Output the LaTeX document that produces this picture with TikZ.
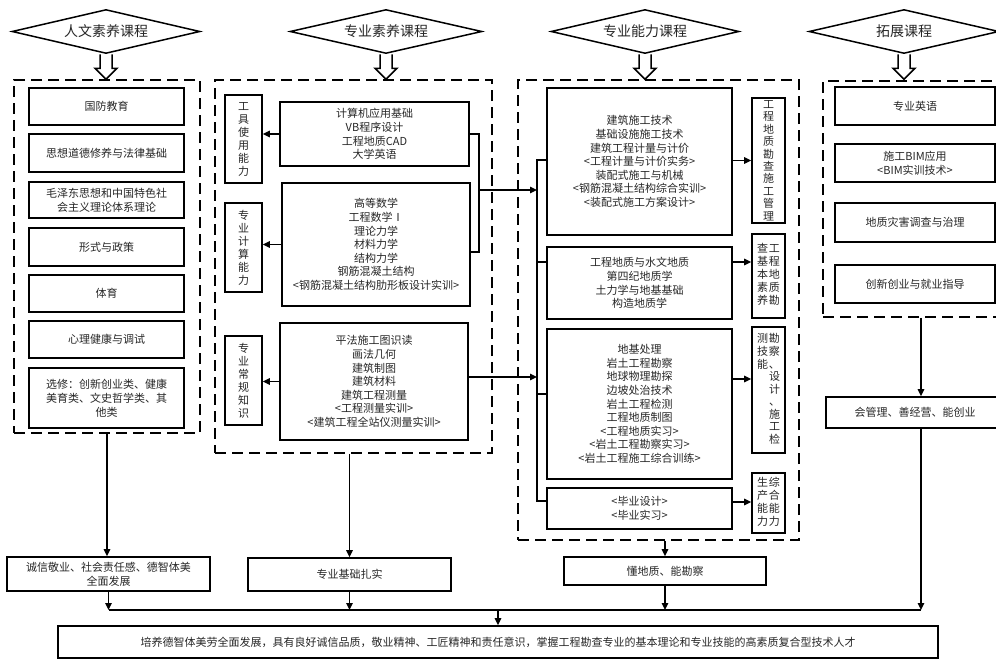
\documentclass[tikz,border=0pt]{standalone}
\usepackage{fontspec}
\setmainfont{Noto Sans CJK SC}
\usetikzlibrary{arrows.meta,shapes.geometric,calc}
\tikzset{
  box/.style={draw, line width=1.7pt, inner sep=0pt, align=center, text=black!85,
    font=\fontsize{11}{13.6}\selectfont},
  lbox/.style={box, font=\fontsize{11}{14}\selectfont},
  vbox/.style={box, font=\fontsize{11}{13}\selectfont},
  dbox/.style={draw, line width=1.8pt, dash pattern=on 11pt off 6pt, inner sep=0pt},
  arr/.style={line width=1.4pt, -{Triangle[length=7pt,width=6.5pt]}},
  ln/.style={line width=1.4pt},
  hdr/.style={diamond, aspect=4.3, draw, line width=1.5pt, inner sep=0pt, text=black!85,
    minimum width=188pt, minimum height=44pt, font=\fontsize{14}{16}\selectfont},
  hollow/.style={draw, line width=1.5pt, fill=white},
}
\begin{document}
\begin{tikzpicture}[x=1pt,y=-1pt]
\useasboundingbox (0,0) rectangle (996,659);

% headers
\node[hdr] (D1) at (106,31.5) {人文素养课程};
\node[hdr, minimum width=192pt] (D2) at (386,31.5) {专业素养课程};
\node[hdr] (D3) at (645,31.5) {专业能力课程};
\node[hdr, minimum width=190pt] (D4) at (904,31.5) {拓展课程};
\foreach \n in {D1,D2,D3,D4}
  \draw[hollow] ($(\n.south)+(-6,0)$) -- ++(0,14) -- ++(-5,0) -- ++(11,11) -- ++(11,-11) -- ++(-5,0) -- ++(0,-14);

% dashed containers
\node[dbox, minimum width=186pt, minimum height=353pt] (LD) at (107,256.5) {};
\node[dbox, minimum width=277pt, minimum height=373pt] (MD) at (353.5,266.5) {};
\node[dbox, minimum width=281pt, minimum height=460pt] (RD) at (658.5,310) {};
\node[dbox, minimum width=196pt, minimum height=236pt] (FD) at (921,199) {};

% left column
\node[lbox, minimum width=155pt, minimum height=37pt] (L1) at (106.5,106.5) {国防教育};
\node[lbox, minimum width=155pt, minimum height=38pt] (L2) at (106.5,153) {思想道德修养与法律基础};
\node[lbox, minimum width=155pt, minimum height=36pt] (L3) at (106.5,200) {毛泽东思想和中国特色社\\会主义理论体系理论};
\node[lbox, minimum width=155pt, minimum height=38pt] (L4) at (106.5,247) {形式与政策};
\node[lbox, minimum width=155pt, minimum height=37pt] (L5) at (106.5,293.5) {体育};
\node[lbox, minimum width=155pt, minimum height=37pt] (L6) at (106.5,339.5) {心理健康与调试};
\node[lbox, minimum width=155pt, minimum height=60pt] (L7) at (106.5,398) {选修：创新创业类、健康\\美育类、文史哲学类、其\\他类};

% middle column
\node[vbox, minimum width=37pt, minimum height=88pt] (T1) at (243.5,139) {工\\具\\使\\用\\能\\力};
\node[box, minimum width=189pt, minimum height=64pt] (M1) at (374.5,134) {计算机应用基础\\VB程序设计\\工程地质CAD\\大学英语};
\node[vbox, minimum width=37pt, minimum height=89pt] (T2) at (243.5,247.5) {专\\业\\计\\算\\能\\力};
\node[box, minimum width=188pt, minimum height=123pt] (M2) at (376,244.5) {高等数学\\工程数学Ⅰ\\理论力学\\材料力学\\结构力学\\钢筋混凝土结构\\<钢筋混凝土结构肋形板设计实训>};
\node[vbox, minimum width=37pt, minimum height=89pt] (T3) at (243.5,380.5) {专\\业\\常\\规\\知\\识};
\node[box, minimum width=188pt, minimum height=117pt] (M3) at (374,381.5) {平法施工图识读\\画法几何\\建筑制图\\建筑材料\\建筑工程测量\\<工程测量实训>\\<建筑工程全站仪测量实训>};

\draw[arr] (M1.west) -- (M1.west -| T1.east);
\draw[arr] (M2.west) -- (M2.west -| T2.east);
\draw[arr] (M3.west) -- (M3.west -| T3.east);

% right column
\node[box, minimum width=185pt, minimum height=147pt] (R1) at (639.5,161.5) {建筑施工技术\\基础设施施工技术\\建筑工程计量与计价\\<工程计量与计价实务>\\装配式施工与机械\\<钢筋混凝土结构综合实训>\\<装配式施工方案设计>};
\node[box, minimum width=33pt, minimum height=125pt, font=\fontsize{11}{12.4}\selectfont] (RT1) at (768.5,160.5) {工\\程\\地\\质\\勘\\查\\施\\工\\管\\理};
\node[box, minimum width=185pt, minimum height=72pt] (R2) at (639.5,283) {工程地质与水文地质\\第四纪地质学\\土力学与地基基础\\构造地质学};
\node[box, minimum width=33pt, minimum height=84pt, font=\fontsize{11}{12.4}\selectfont] (RT2) at (768.5,276) {\begin{tabular}{@{}c@{\hspace{1pt}}c@{}}查&工\\基&程\\本&地\\素&质\\养&勘\end{tabular}};
\node[box, minimum width=185pt, minimum height=150pt] (R3) at (639.5,404) {地基处理\\岩土工程勘察\\地球物理勘探\\边坡处治技术\\岩土工程检测\\工程地质制图\\<工程地质实习>\\<岩土工程勘察实习>\\<岩土工程施工综合训练>};
\node[box, minimum width=33pt, minimum height=126pt, font=\fontsize{11}{12}\selectfont] (RT3) at (768.5,390) {\begin{tabular}{@{}c@{\hspace{1pt}}c@{}}测&勘\\技&察\\能&、\\&设\\&计\\&、\\&施\\&工\\&检\end{tabular}};
\node[box, minimum width=185pt, minimum height=41pt] (R4) at (639.5,508.5) {<毕业设计>\\<毕业实习>};
\node[box, minimum width=33pt, minimum height=60pt, font=\fontsize{11}{12}\selectfont] (RT4) at (768.5,503) {\begin{tabular}{@{}c@{\hspace{1pt}}c@{}}生&综\\产&合\\能&能\\力&力\end{tabular}};

\draw[arr] (R1.east |- RT1.west) -- (RT1.west);
\draw[arr] (R2.east |- 0,262) -- (RT2.west |- 0,262);
\draw[arr] (R3.east |- 0,379) -- (RT3.west |- 0,379);
\draw[arr] (R4.east |- 0,502) -- (RT4.west |- 0,502);

% connectors middle -> right
\coordinate (mb) at (479,0);
\coordinate (rb) at (537,0);
\draw[ln] (M1.east) -- (mb |- M1.east) -- (mb |- 0,252) -- (M2.east |- 0,252);
\draw[arr] (mb |- 0,190) -- (rb |- 0,190);
\draw[arr] (M3.east |- 0,377) -- (rb |- 0,377);
\draw[ln] (R1.west |- 0,160) -- (rb |- 0,160) -- (rb |- 0,501) -- (R4.west |- 0,501);
\draw[ln] (rb |- 0,262) -- (R2.west |- 0,262);
\draw[ln] (rb |- 0,394) -- (R3.west |- 0,394);

% far right column
\node[lbox, minimum width=160pt, minimum height=38pt] (F1) at (915,106) {专业英语};
\node[lbox, minimum width=160pt, minimum height=38pt] (F2) at (915,163) {施工BIM应用\\<BIM实训技术>};
\node[lbox, minimum width=160pt, minimum height=39pt] (F3) at (915,222.5) {地质灾害调查与治理};
\node[lbox, minimum width=160pt, minimum height=38pt] (F4) at (915,284) {创新创业与就业指导};
\node[lbox, minimum width=178pt, minimum height=31pt] (F5) at (915,412.5) {会管理、善经营、能创业};

% bottom row
\node[lbox, minimum width=203pt, minimum height=34pt] (B1) at (108.5,574) {诚信敬业、社会责任感、德智体美\\全面发展};
\node[lbox, minimum width=203pt, minimum height=33pt] (B2) at (349.5,574.5) {专业基础扎实};
\node[lbox, minimum width=202pt, minimum height=28pt] (B3) at (665,571) {懂地质、能勘察};
\node[lbox, minimum width=880pt, minimum height=32pt] (FIN) at (498,642) {培养德智体美劳全面发展，具有良好诚信品质，敬业精神、工匠精神和责任意识，掌握工程勘查专业的基本理论和专业技能的高素质复合型技术人才};

\draw[arr] (LD.south) -- (LD.south |- B1.north);
\draw[arr] (B2.north |- MD.south) -- (B2.north);
\draw[arr] (B3.north |- RD.south) -- (B3.north);
\draw[arr] (FD.south) -- (FD.south |- F5.north);

\coordinate (bus) at (0,610);
\draw[arr] (B1.south) -- (B1.south |- bus);
\draw[arr] (B2.south) -- (B2.south |- bus);
\draw[arr] (B3.south) -- (B3.south |- bus);
\draw[arr] (FD.south |- F5.south) -- (FD.south |- bus);
\draw[ln] (B1.south |- bus) -- (FD.south |- bus);
\draw[arr] (FIN.north |- bus) -- (FIN.north);
\end{tikzpicture}
\end{document}
